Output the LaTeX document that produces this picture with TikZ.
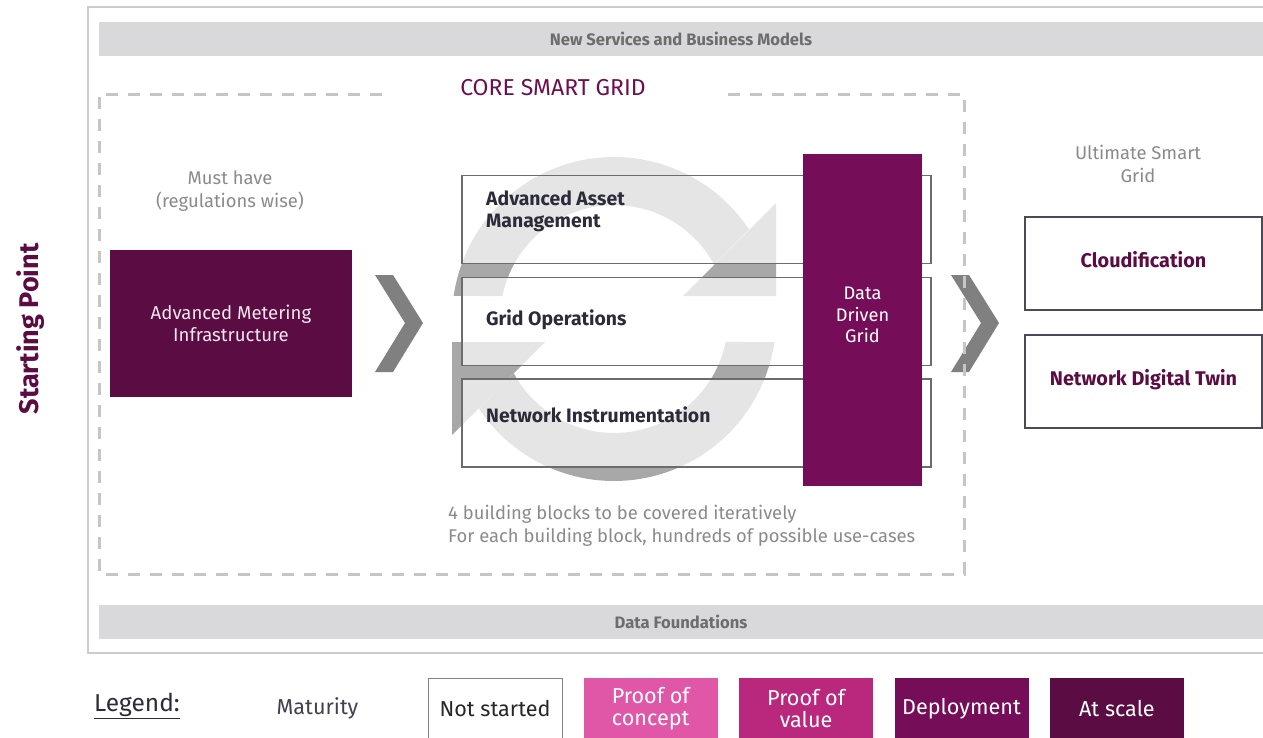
\documentclass[tikz,border=0pt]{standalone}
\usepackage{fontspec}
\setmainfont{Fira Sans}
\usetikzlibrary{positioning}
\definecolor{atscale}{HTML}{5B0C42}
\definecolor{deploy}{HTML}{760D58}
\definecolor{provalue}{HTML}{B9287C}
\definecolor{proconcept}{HTML}{E157A8}
\definecolor{titleplum}{HTML}{6B0F4E}
\definecolor{txtgray}{HTML}{8A8A8A}
\definecolor{bargray}{HTML}{D9D9DB}
\definecolor{bartxt}{HTML}{6D6D6D}
\definecolor{inkdark}{HTML}{2B2B3A}
\definecolor{ringgray}{HTML}{A8A8A8}
\newcommand{\fs}[2]{\fontsize{#1}{#2}\selectfont}

\begin{document}
\begin{tikzpicture}[
  x=1pt, y=-1pt,
  every node/.style={inner sep=0pt},
  bar/.style={fill=bargray, minimum width=1164, minimum height=34, text=bartxt, font=\fs{16.6}{19}\bfseries},
  lbl/.style={text=txtgray, font=\fs{18.4}{23}, align=center},
  block/.style={draw=gray!85!black, line width=1.2pt, fill=white, fill opacity=0.7, minimum width=469, minimum height=88},
  blocktxt/.style={text=inkdark, font=\fs{19.4}{22}\bfseries, align=left, anchor=west},
  target/.style={draw=inkdark!85, line width=1.3pt, minimum width=237, minimum height=93, text depth=9pt, text=atscale, font=\fs{19.8}{23}\bfseries},
  legbox/.style={minimum width=134, minimum height=62, text=white, font=\fs{21.6}{22}, align=center},
  chevron/.style={fill=gray!100!white},
  veil/.style={fill=white, fill opacity=0.7}
]
\useasboundingbox (0,0) rectangle (1263,737);
\clip (0,0) rectangle (1263,737);

% frame and bars
\draw[line width=2pt, gray!40] (1290,7) -- (88,7) -- (88,653) -- (1290,653);
\node[bar] (nsbm) at (681,39) {New Services and Business Models};
\node[bar] (datafound) at (681,622) {Data Foundations};
\node[rotate=90, text=atscale, font=\fs{27}{30}\bfseries] (start) at (31,329) {Starting Point};

% iteration ring
\fill[ringgray] plot[domain=188.2:326.4, samples=60] ({614+162*cos(\x)},{319+162*sin(\x)})
  -- plot[domain=331.6:191.6, samples=60] ({614+114*cos(\x)},{319+114*sin(\x)}) -- cycle;
\fill[ringgray] (683,296) -- (776,296) -- (776,203) -- cycle;
\fill[ringgray] plot[domain=8.2:146.4, samples=60] ({614+162*cos(\x)},{319+162*sin(\x)})
  -- plot[domain=151.6:11.6, samples=60] ({614+114*cos(\x)},{319+114*sin(\x)}) -- cycle;
\fill[ringgray] (545,342) -- (452,342) -- (452,435) -- cycle;
\fill[veil] (440,150) rectangle (931,263);

% building blocks
\node[block, fill opacity=0] (aam) at (696.5,219.5) {};
\node[block, below=13pt of aam] (gridops) {};
\node[block, below=12pt of gridops] (netinst) {};
\node[blocktxt] (aamtxt) at (486,211) {Advanced Asset\\Management};
\node[blocktxt] (gridopstxt) at (486,320) {Grid Operations};
\node[blocktxt] (netinsttxt) at (486,415) {Network Instrumentation};
\node[fill=deploy, minimum width=119, minimum height=332, text depth=10pt, text=white, font=\fs{18.2}{21.5}, align=center] (ddg) at (862.5,320) {Data\\Driven\\Grid};

% chevrons
\foreach \cx in {375,951}
  \fill[chevron] (\cx,275) -- ++(18,0) -- ++(30,48) -- ++(-30,49) -- ++(-18,0) -- ++(30,-49) -- cycle;

% core smart grid
\draw[gray!45, line width=3pt, dash pattern=on 12pt off 10pt] (382,94) -- (99,94) -- (99,574) -- (964,574) -- (964,94) -- (724,94);
\node[text=titleplum, font=\fs{23}{26}] (core) at (553,88) {CORE SMART GRID};
\node[lbl] (musthave) at (230,191.5) {Must have\\(regulations wise)};
\node[fill=atscale, minimum width=242, minimum height=147, text=white!90!atscale, font=\fs{18.6}{22}, align=center] (ami) at (231,323.5) {Advanced Metering\\Infrastructure};
\node[lbl, align=left, anchor=north west] (iter) at (448,505) {4 building blocks to be covered iteratively\\For each building block, hundreds of possible use-cases};

% ultimate smart grid
\node[lbl] (ultimate) at (1138,163.5) {Ultimate Smart\\Grid};
\node[target] (cloud) at (1143.5,263.5) {Cloudification};
\node[target] (twin) at (1143.5,381.5) {Network Digital Twin};

% legend
\node[text=inkdark, font=\fs{24.5}{27}] (legend) at (137,706) {\underline{Legend:}};
\node[text=inkdark!90, font=\fs{21.6}{24}] (maturity) at (317.5,708) {Maturity};
\node[legbox, draw=gray, line width=1pt, fill=white, text=black!85] (notstarted) at (495,709) {Not started};
\node[legbox, fill=proconcept, right=21pt of notstarted] (poc) {Proof of\\concept};
\node[legbox, fill=provalue, right=21pt of poc] (pov) {Proof of\\value};
\node[legbox, fill=deploy, right=21pt of pov] (deployment) {Deployment};
\node[legbox, fill=atscale, right=21pt of deployment] (atscalebox) {At scale};
\end{tikzpicture}
\end{document}
